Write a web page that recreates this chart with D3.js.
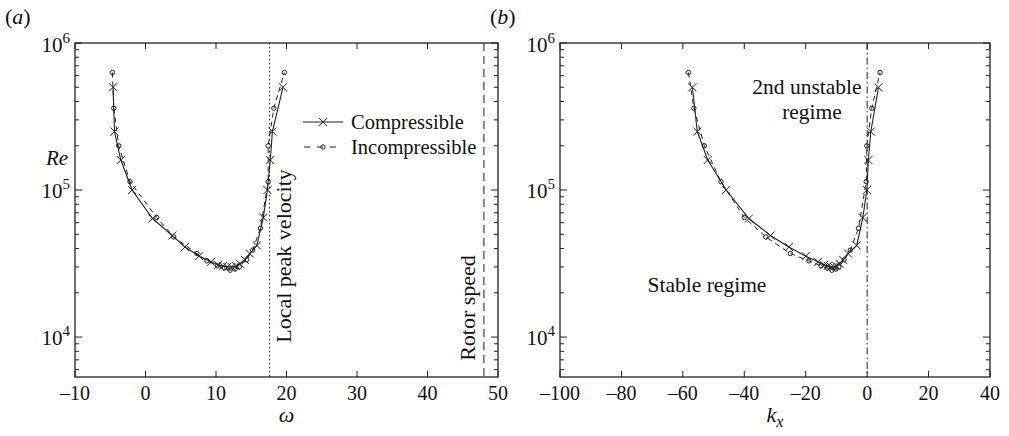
<!DOCTYPE html>
<html><head><meta charset="utf-8">
<script src="https://cdn.jsdelivr.net/npm/d3@7"></script>
<style>body{margin:0;background:#fff}svg{display:block}</style>
</head><body><svg id="c" width="1009" height="436"></svg>
<script>
// ---- data ----
const compRe   = [5e5,2.5e5,1.6e5,1e5,6.4e4,4.9e4,4.1e4,3.55e4,3.25e4,3.1e4,3.05e4,3.0e4,3.0e4,3.05e4,3.15e4,3.35e4,3.7e4,4.2e4,6.5e4,1e5,1.6e5,2.5e5,5e5];
const compOmega= [-4.6,-4.4,-3.5,-1.9,1.0,3.8,5.6,7.6,9.3,10.3,11.0,11.6,12.2,12.8,13.4,14.1,14.8,15.8,16.7,17.3,17.7,18.0,19.5];
const compKx   = [-56.9,-55.3,-51.9,-45.9,-38.5,-31.5,-25.5,-20,-16,-14,-12.8,-11.8,-10.9,-10.0,-9.0,-7.8,-6.2,-3.4,-1.4,-0.1,0.4,1.2,3.7];
const incRe    = [6.3e5,3.6e5,2.0e5,1.14e5,6.5e4,4.8e4,3.7e4,3.3e4,3.05e4,2.95e4,2.85e4,2.9e4,3.0e4,3.35e4,3.9e4,5.5e4,1.14e5,2.0e5,3.6e5,6.3e5];
const incOmega = [-4.7,-4.5,-3.8,-2.2,1.6,4.0,7.3,8.7,10.2,11.2,12.0,12.7,13.3,14.35,15.2,16.3,17.4,17.4,18.2,19.7];
const incKx    = [-58.2,-56.4,-53.0,-47.6,-40,-33,-25,-19,-15,-13,-11.5,-10.2,-9.2,-7.5,-5.5,-2.8,-0.3,-0.1,1.5,4.2];
const omegaTicks = [-10,0,10,20,30,40,50];
const kxTicks = [-100,-80,-60,-40,-20,0,20,40];
const reDecades = [1e4,1e5,1e6];
const reMin = 5350, reMax = 1e6;
const localPeak = 17.6, rotorSpeed = 48, kxZero = 0;
const legendLabels = ["Compressible","Incompressible"];

const svg = d3.select("#c");
const yTop = 43, yBot = 377;
const y = d3.scaleLog().domain([reMin, reMax]).range([yBot, yTop]);
const ink = "#222";

function xMark(g, cx, cy, s){
  g.append("path").attr("d",`M${cx-s},${cy-s}L${cx+s},${cy+s}M${cx-s},${cy+s}L${cx+s},${cy-s}`)
   .attr("stroke",ink).attr("stroke-width",1).attr("fill","none");
}
function oMark(g, cx, cy, r){
  g.append("circle").attr("cx",cx).attr("cy",cy).attr("r",r).attr("stroke",ink).attr("stroke-width",1).attr("fill","none");
}

function panel(x0, x1, domain, ticks, xs, comp, incs, inc, label, xlabelFn){
  const x = d3.scaleLinear().domain(domain).range([x0, x1]);
  const g = svg.append("g");
  g.append("rect").attr("x",x0).attr("y",yTop).attr("width",x1-x0).attr("height",yBot-yTop)
   .attr("fill","none").attr("stroke",ink).attr("stroke-width",1.3);
  ticks.forEach(t=>{
    const px = x(t);
    g.append("line").attr("x1",px).attr("x2",px).attr("y1",yBot).attr("y2",yBot-6).attr("stroke",ink);
    g.append("line").attr("x1",px).attr("x2",px).attr("y1",yTop).attr("y2",yTop+6).attr("stroke",ink);
    g.append("text").attr("x",px).attr("y",yBot+23).attr("text-anchor","middle").attr("font-size",20)
     .text(t<0 ? "\u2013"+Math.abs(t) : String(t));
  });
  const minors = [];
  [1e3,1e4,1e5].forEach(d=>{ for(let k=2;k<=9;k++){ const v=d*k; if(v>=reMin && v<=reMax) minors.push(v);} });
  minors.forEach(v=>{
    const py = y(v);
    g.append("line").attr("x1",x0).attr("x2",x0+4).attr("y1",py).attr("y2",py).attr("stroke",ink);
    g.append("line").attr("x1",x1).attr("x2",x1-4).attr("y1",py).attr("y2",py).attr("stroke",ink);
  });
  reDecades.forEach(v=>{
    const py = y(v);
    g.append("line").attr("x1",x0).attr("x2",x0+7).attr("y1",py).attr("y2",py).attr("stroke",ink);
    g.append("line").attr("x1",x1).attr("x2",x1-7).attr("y1",py).attr("y2",py).attr("stroke",ink);
    const t = g.append("text").attr("x",x0-5).attr("y",py+ (v===1e6?9:8)).attr("text-anchor","end").attr("font-size",21);
    t.append("tspan").text("10");
    t.append("tspan").attr("dy",-9).attr("font-size",15).text(String(Math.round(Math.log10(v))));
  });
  const line = d3.line().x(d=>x(d[0])).y(d=>y(d[1]));
  const cPts = xs.map((v,i)=>[v,comp[i]]);
  const iPts = incs.map((v,i)=>[v,inc[i]]);
  g.append("path").datum(iPts).attr("d",line).attr("fill","none").attr("stroke",ink).attr("stroke-width",1).attr("stroke-dasharray","5,4");
  g.append("path").datum(cPts).attr("d",line).attr("fill","none").attr("stroke",ink).attr("stroke-width",1.1);
  cPts.forEach(d=>xMark(g, x(d[0]), y(d[1]), 4));
  iPts.forEach(d=>oMark(g, x(d[0]), y(d[1]), 2.2));
  const pl = svg.append("text").attr("x",x0-70).attr("y",24).attr("font-size",22);
  pl.append("tspan").text("(");
  pl.append("tspan").attr("font-style","italic").text(label);
  pl.append("tspan").text(")");
  xlabelFn(g, (x0+x1)/2);
  return {g, x};
}

// Panel (a)
const A = panel(75, 498, [-10,50], omegaTicks, compOmega, compRe, incOmega, incRe, "a", (g,cx)=>{
  g.append("text").attr("x",cx).attr("y",422).attr("text-anchor","middle").attr("font-size",22).attr("font-style","italic").text("\u03c9");
});
A.g.append("text").attr("x",57).attr("y",165).attr("text-anchor","middle").attr("font-size",21).attr("font-style","italic").text("Re");
A.g.append("line").attr("x1",A.x(localPeak)).attr("x2",A.x(localPeak)).attr("y1",yTop).attr("y2",yBot)
  .attr("stroke",ink).attr("stroke-width",1).attr("stroke-dasharray","1.5,2.5");
A.g.append("line").attr("x1",A.x(rotorSpeed)).attr("x2",A.x(rotorSpeed)).attr("y1",yTop).attr("y2",yBot)
  .attr("stroke","#444").attr("stroke-width",1.2).attr("stroke-dasharray","8,5");
A.g.append("text").attr("transform",`translate(${A.x(localPeak)+21},256) rotate(-90)`).attr("text-anchor","middle").attr("font-size",22).text("Local peak velocity");
A.g.append("text").attr("transform",`translate(${A.x(rotorSpeed)-9},308) rotate(-90)`).attr("text-anchor","middle").attr("font-size",22).text("Rotor speed");
const lg = A.g.append("g");
lg.append("line").attr("x1",303).attr("x2",343).attr("y1",122).attr("y2",122).attr("stroke",ink).attr("stroke-width",1.1);
xMark(lg, 323, 122, 4);
lg.append("line").attr("x1",303).attr("x2",343).attr("y1",147).attr("y2",147).attr("stroke",ink).attr("stroke-dasharray","6,7").attr("stroke-dashoffset",-1);
oMark(lg, 323, 147, 2.2);
lg.append("text").attr("x",351).attr("y",129).attr("font-size",20.5).text(legendLabels[0]);
lg.append("text").attr("x",351).attr("y",154).attr("font-size",20.5).text(legendLabels[1]);

// Panel (b)
const B = panel(560, 990, [-100,40], kxTicks, compKx, compRe, incKx, incRe, "b", (g,cx)=>{
  const t = g.append("text").attr("x",cx).attr("y",422).attr("text-anchor","middle").attr("font-size",22).attr("font-style","italic");
  t.append("tspan").text("k");
  t.append("tspan").attr("dy",5).attr("font-size",16).text("x");
});
B.g.append("line").attr("x1",B.x(kxZero)).attr("x2",B.x(kxZero)).attr("y1",yTop).attr("y2",yBot)
  .attr("stroke",ink).attr("stroke-width",1).attr("stroke-dasharray","7,3,1.5,3");
B.g.append("text").attr("x",807).attr("y",94).attr("text-anchor","middle").attr("font-size",21.5).text("2nd unstable");
B.g.append("text").attr("x",812).attr("y",119).attr("text-anchor","middle").attr("font-size",21.5).text("regime");
B.g.append("text").attr("x",707).attr("y",292).attr("text-anchor","middle").attr("font-size",21.5).text("Stable regime");

svg.selectAll("text").attr("font-family","Liberation Serif").attr("fill","#111");
</script></body></html>
